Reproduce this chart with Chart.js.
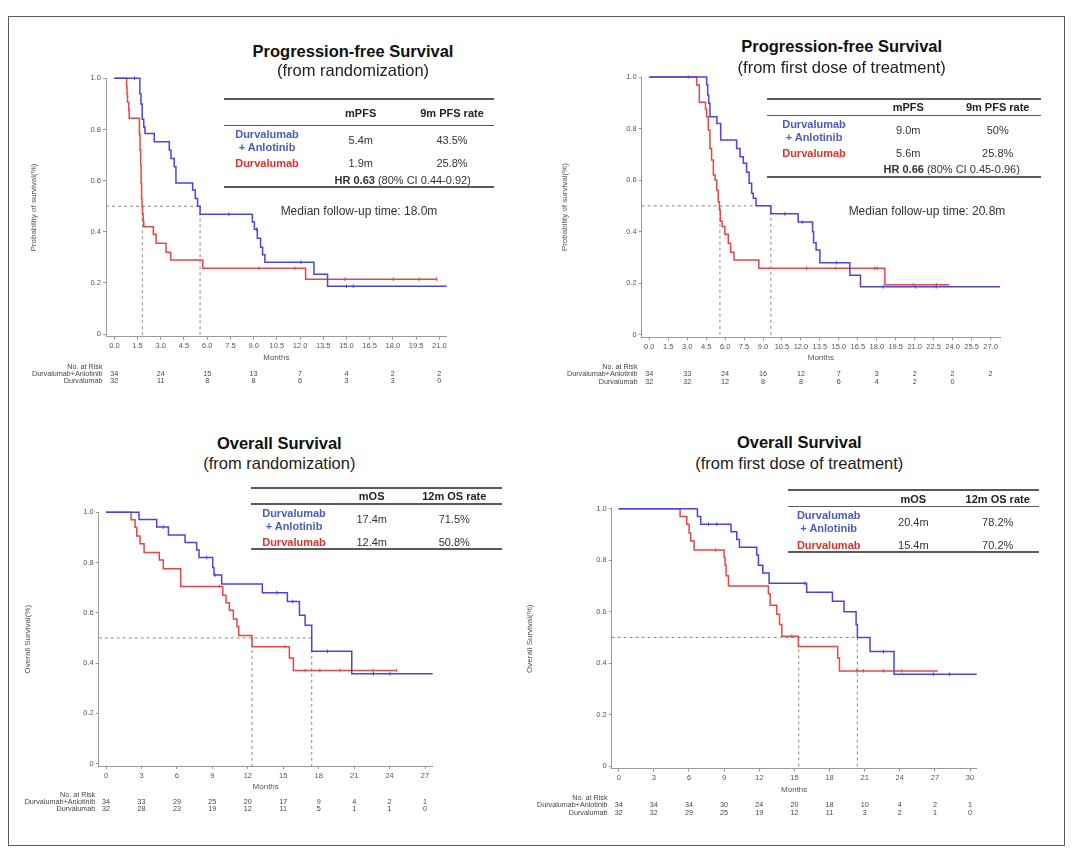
<!DOCTYPE html>
<html>
<head>
<meta charset="utf-8">
<script src="https://cdn.jsdelivr.net/npm/chart.js@4.4.1/dist/chart.umd.min.js"></script>
<style>
  html, body { margin: 0; padding: 0; background: #fff; }
  #page { position: relative; width: 1080px; height: 857px; overflow: hidden; font-family: "Liberation Sans", Arial, sans-serif; }
  #frame { position: absolute; left: 8px; top: 16px; width: 1057px; height: 830px; border: 1.5px solid #5a5a5a; box-sizing: border-box; }
  canvas { position: absolute; }
  .t { position: absolute; transform: translate(-50%, -50%); white-space: nowrap; color: #333; font-size: 11px; line-height: 1; }
  .rule { position: absolute; background: #5a5a5a; }
</style>
</head>
<body>
<div id="page"><div id="frame"></div></div>
<script>
(function () {
  "use strict";

  // ---- PFS from randomization ----
  const pfsRandComboT = [0, 1.65, 1.72, 1.80, 1.90, 1.98, 2.58, 3.55, 3.66, 3.87, 3.98, 5.06, 5.23, 5.38, 5.54, 8.92, 9.05, 9.24, 9.45, 9.58, 9.73, 12.90, 13.78, 21.48];
  const pfsRandComboS = [1.0, 0.94, 0.90, 0.84, 0.81, 0.784, 0.752, 0.72, 0.687, 0.654, 0.591, 0.563, 0.53, 0.50, 0.469, 0.438, 0.41, 0.375, 0.34, 0.31, 0.281, 0.234, 0.1875, 0.1875];
  const pfsRandComboCens = [1.3, 7.4, 9.19, 12.06, 15.0, 15.44];
  const pfsRandMonoT = [0, 0.79, 0.82, 0.85, 0.93, 0.96, 1.62, 1.66, 1.70, 1.73, 1.76, 1.79, 1.82, 1.86, 1.90, 2.52, 2.70, 3.34, 3.64, 5.71, 12.36, 20.83];
  const pfsRandMonoS = [1.0, 0.969, 0.938, 0.906, 0.875, 0.844, 0.78, 0.72, 0.66, 0.59, 0.53, 0.50, 0.47, 0.44, 0.42, 0.39, 0.355, 0.32, 0.29, 0.258, 0.215, 0.215];
  const pfsRandMonoCens = [9.35, 11.67, 14.9, 18.03, 19.7, 20.83];
  const pfsRandMedians = [1.81, 5.54];
  const pfsRandTicks = [0, 1.5, 3, 4.5, 6, 7.5, 9, 10.5, 12, 13.5, 15, 16.5, 18, 19.5, 21];
  const pfsRandRiskTimes = [0, 3, 6, 9, 12, 15, 18, 21];
  const pfsRandRiskCombo = [34, 24, 15, 13, 7, 4, 2, 2];
  const pfsRandRiskMono = [32, 11, 8, 8, 6, 3, 3, 0];

  // ---- PFS from first dose ----
  const pfsDoseComboT = [0, 4.54, 4.62, 4.70, 4.80, 5.35, 5.65, 6.91, 7.18, 7.44, 7.70, 7.90, 8.10, 8.23, 8.45, 9.62, 11.78, 12.92, 13.00, 13.20, 13.50, 15.87, 16.71, 27.75];
  const pfsDoseComboS = [1.0, 0.97, 0.93, 0.898, 0.846, 0.82, 0.756, 0.723, 0.691, 0.665, 0.63, 0.588, 0.549, 0.53, 0.50, 0.469, 0.437, 0.40, 0.357, 0.329, 0.279, 0.231, 0.186, 0.186];
  const pfsDoseComboCens = [3.08, 10.73, 12.1, 14.82, 18.5, 21.07, 22.7];
  const pfsDoseMonoT = [0, 3.75, 3.96, 4.45, 4.54, 4.67, 4.80, 4.93, 5.07, 5.20, 5.33, 5.46, 5.55, 5.62, 5.77, 5.98, 6.25, 6.43, 6.70, 8.67, 18.64, 23.73];
  const pfsDoseMonoS = [1.0, 0.969, 0.902, 0.875, 0.846, 0.794, 0.723, 0.678, 0.62, 0.60, 0.561, 0.516, 0.484, 0.44, 0.42, 0.39, 0.355, 0.32, 0.29, 0.258, 0.194, 0.194];
  const pfsDoseMonoCens = [12.44, 14.76, 17.85, 18.03, 20.88, 22.73];
  const pfsDoseMedians = [5.59, 9.62];
  const pfsDoseTicks = [0, 1.5, 3, 4.5, 6, 7.5, 9, 10.5, 12, 13.5, 15, 16.5, 18, 19.5, 21, 22.5, 24, 25.5, 27];
  const pfsDoseRiskTimes = [0, 3, 6, 9, 12, 15, 18, 21, 24, 27];
  const pfsDoseRiskCombo = [34, 33, 24, 16, 12, 7, 3, 2, 2, 2];
  const pfsDoseRiskMono = [32, 32, 12, 8, 8, 6, 4, 2, 0, null];

  // ---- OS from randomization ----
  const osRandComboT = [0, 2.79, 4.29, 5.28, 6.69, 7.67, 7.87, 9.03, 9.14, 9.79, 13.23, 15.35, 16.37, 16.85, 17.41, 20.80, 27.65];
  const osRandComboS = [1.0, 0.971, 0.941, 0.91, 0.88, 0.85, 0.82, 0.78, 0.75, 0.715, 0.68, 0.645, 0.59, 0.55, 0.447, 0.357, 0.357];
  const osRandComboCens = [4.85, 8.52, 9.23, 14.45, 15.8, 18.74, 22.63, 24.04];
  const osRandMonoT = [0, 2.12, 2.46, 2.60, 2.88, 3.22, 4.51, 4.85, 6.32, 9.88, 10.16, 10.44, 10.78, 11.08, 11.23, 12.36, 15.52, 15.86, 24.6];
  const osRandMonoS = [1.0, 0.97, 0.94, 0.906, 0.875, 0.84, 0.81, 0.775, 0.705, 0.67, 0.64, 0.61, 0.575, 0.545, 0.51, 0.465, 0.42, 0.37, 0.37];
  const osRandMonoCens = [9.59, 15.15, 16.85, 18.1, 19.8, 22.6, 24.6];
  const osRandMedians = [12.36, 17.41];
  const osRandTicks = [0, 3, 6, 9, 12, 15, 18, 21, 24, 27];
  const osRandRiskTimes = [0, 3, 6, 9, 12, 15, 18, 21, 24, 27];
  const osRandRiskCombo = [34, 33, 29, 25, 20, 17, 9, 4, 2, 1];
  const osRandRiskMono = [32, 28, 23, 19, 12, 11, 5, 1, 1, 0];

  // ---- OS from first dose ----
  const osDoseComboT = [0, 6.72, 7.00, 9.59, 10.08, 10.31, 11.79, 11.93, 12.30, 12.84, 16.05, 18.25, 19.24, 20.27, 20.38, 21.46, 23.51, 30.57];
  const osDoseComboS = [1.0, 0.97, 0.94, 0.91, 0.88, 0.85, 0.82, 0.78, 0.75, 0.71, 0.675, 0.64, 0.60, 0.55, 0.50, 0.445, 0.357, 0.357];
  const osDoseComboCens = [7.66, 8.37, 15.9, 22.6, 26.87, 28.24];
  const osDoseMonoT = [0, 5.24, 5.81, 6.01, 6.15, 6.44, 9.00, 9.08, 9.17, 9.37, 12.78, 12.93, 13.50, 13.73, 13.93, 15.34, 18.70, 18.85, 27.24];
  const osDoseMonoS = [1.0, 0.97, 0.94, 0.906, 0.875, 0.84, 0.81, 0.78, 0.74, 0.70, 0.67, 0.625, 0.59, 0.55, 0.505, 0.465, 0.42, 0.37, 0.37];
  const osDoseMonoCens = [8.28, 14.77, 20.32, 20.9, 22.6, 24.17];
  const osDoseMedians = [15.37, 20.38];
  const osDoseTicks = [0, 3, 6, 9, 12, 15, 18, 21, 24, 27, 30];
  const osDoseRiskTimes = [0, 3, 6, 9, 12, 15, 18, 21, 24, 27, 30];
  const osDoseRiskCombo = [34, 34, 34, 30, 24, 20, 18, 10, 4, 2, 1];
  const osDoseRiskMono = [32, 32, 29, 25, 19, 12, 11, 3, 2, 1, 0];

  const yTicks = [0, 0.2, 0.4, 0.6, 0.8, 1.0];
  const riskLabels = ["No. at Risk", "Durvalumab+Anlotinib", "Durvalumab"];

  // summary table texts
  const pfsRandTable = ["mPFS", "9m PFS rate", "5.4m", "43.5%", "1.9m", "25.8%"];
  const pfsDoseTable = ["mPFS", "9m PFS rate", "9.0m", "50%", "5.6m", "25.8%"];
  const osRandTable = ["mOS", "12m OS rate", "17.4m", "71.5%", "12.4m", "50.8%"];
  const osDoseTable = ["mOS", "12m OS rate", "20.4m", "78.2%", "15.4m", "70.2%"];

  const BLUE = "#4646e2";
  const RED = "#e64646";
  const BLUE_TXT = "#4a5cc2";
  const RED_TXT = "#e3302c";
  const FONT = '"Liberation Sans", Arial, sans-serif';
  const page = document.getElementById("page");

  function survAt(T, S, t) {
    let s = S[0];
    for (let i = 0; i < T.length; i++) if (T[i] <= t) s = S[i];
    return s;
  }

  const riskPlugin = {
    id: "riskTable",
    afterDraw(chart, args, opts) {
      const ctx = chart.ctx;
      const xs = chart.scales.x;
      ctx.save();
      ctx.font = "7.2px " + FONT;
      ctx.fillStyle = "#444";
      ctx.textBaseline = "middle";
      ctx.textAlign = "right";
      riskLabels.forEach((l, i) => ctx.fillText(l, opts.labelX, opts.rows[i]));
      ctx.textAlign = "center";
      opts.times.forEach((t, i) => {
        const px = xs.getPixelForValue(t);
        if (opts.combo[i] != null) ctx.fillText(String(opts.combo[i]), px, opts.rows[1]);
        if (opts.mono[i] != null) ctx.fillText(String(opts.mono[i]), px, opts.rows[2]);
      });
      ctx.restore();
    },
  };

  function makePanel(p) {
    const [bx, by, bw, bh] = p.box;
    const [aL, aT, aR, aB] = p.area;
    const axisFont = 8;
    const lh = axisFont * 1.2;
    const yW = aL - (p.yTitleX - lh / 2);
    const xH = 25.5;
    const yMin = -0.01;

    const canvas = document.createElement("canvas");
    canvas.width = bw;
    canvas.height = bh;
    canvas.style.left = bx + "px";
    canvas.style.top = by + "px";
    canvas.style.width = bw + "px";
    canvas.style.height = bh + "px";
    page.appendChild(canvas);

    const curve = (T, S, color) => ({
      data: T.map((t, i) => ({ x: t, y: S[i] })),
      borderColor: color,
      borderWidth: 1.5,
      stepped: true,
      pointRadius: 0,
      fill: false,
      clip: false,
    });
    const cens = (C, T, S, color) => ({
      data: C.map((t) => ({ x: t, y: survAt(T, S, t) })),
      showLine: false,
      pointStyle: "line",
      rotation: 90,
      pointRadius: 1.8,
      pointBorderWidth: 1,
      borderColor: color,
      clip: false,
    });
    const dashed = (pts) => ({
      data: pts,
      borderColor: "#8a8a8a",
      borderWidth: 1,
      borderDash: [3, 3],
      pointRadius: 0,
      clip: false,
    });

    const medMax = Math.max(...p.medians);
    const datasets = [
      curve(p.comboT, p.comboS, BLUE),
      curve(p.monoT, p.monoS, RED),
      cens(p.comboC, p.comboT, p.comboS, BLUE),
      cens(p.monoC, p.monoT, p.monoS, RED),
      dashed([{ x: p.xRange[0], y: 0.5 }, { x: medMax, y: 0.5 }]),
    ];
    p.medians.forEach((m) => datasets.push(dashed([{ x: m, y: 0.5 }, { x: m, y: yMin }])));

    const tickFont = { family: FONT, size: 7.5 };
    const titleFont = { family: FONT, size: axisFont };

    new Chart(canvas, {
      type: "line",
      data: { datasets },
      options: {
        responsive: false,
        animation: false,
        devicePixelRatio: 1,
        events: [],
        layout: {
          padding: {
            left: p.yTitleX - lh / 2 - bx,
            top: aT - by,
            right: bx + bw - aR,
            bottom: by + bh - aB - xH,
          },
        },
        plugins: {
          legend: { display: false },
          tooltip: { enabled: false },
          riskTable: {
            labelX: p.riskLabelX - bx,
            rows: p.riskRows.map((r) => r - by),
            times: p.riskTimes,
            combo: p.riskCombo,
            mono: p.riskMono,
          },
        },
        scales: {
          x: {
            type: "linear",
            bounds: "data",
            min: p.xRange[0],
            max: p.xRange[1],
            afterFit(s) { s.height = xH; },
            afterBuildTicks(s) { s.ticks = p.ticks.map((v) => ({ value: v })); },
            ticks: {
              autoSkip: false,
              minRotation: 0,
              maxRotation: 0,
              padding: 2,
              font: tickFont,
              color: "#555",
              callback: (v) => p.decimals ? Number(v).toFixed(1) : String(v),
            },
            grid: { display: true, drawOnChartArea: false, drawTicks: true, tickLength: 3, color: "#9a9a9a" },
            border: { display: true, color: "#9a9a9a", width: 1 },
            title: { display: true, text: "Months", font: titleFont, color: "#555", padding: 0 },
          },
          y: {
            type: "linear",
            bounds: "data",
            min: yMin,
            max: 1.0,
            afterFit(s) { s.width = yW; },
            afterBuildTicks(s) { s.ticks = yTicks.map((v) => ({ value: v })); },
            ticks: {
              padding: 2,
              font: tickFont,
              color: "#555",
              callback: (v) => (v === 0 ? "0" : Number(v).toFixed(1)),
            },
            grid: { display: true, drawOnChartArea: false, drawTicks: true, tickLength: 3, color: "#9a9a9a" },
            border: { display: true, color: "#9a9a9a", width: 1 },
            title: { display: true, text: p.yTitle, font: titleFont, color: "#555", padding: 0 },
          },
        },
      },
      plugins: [riskPlugin],
    });
  }

  function addText(x, y, html, css) {
    const el = document.createElement("div");
    el.className = "t";
    el.style.left = x + "px";
    el.style.top = y + "px";
    if (css) el.style.cssText += css;
    el.innerHTML = html;
    page.appendChild(el);
  }

  function addRule(x1, x2, y, h) {
    const el = document.createElement("div");
    el.className = "rule";
    el.style.left = x1 + "px";
    el.style.width = (x2 - x1) + "px";
    el.style.top = (y - h / 2) + "px";
    el.style.height = h + "px";
    page.appendChild(el);
  }

  // title + summary table for one panel
  function addHeader(h) {
    addText(h.titleX, h.titleY, h.title, "font-size:16.5px;font-weight:bold;color:#111;");
    addText(h.titleX, h.subY, h.sub, "font-size:16.5px;color:#222;");
    addRule(h.ruleX[0], h.ruleX[1], h.rules[0], 2);
    addRule(h.ruleX[0], h.ruleX[1], h.rules[1], 1.5);
    addRule(h.ruleX[0], h.ruleX[1], h.rules[2], 2);
    const [c0, c1, c2] = h.cols;
    const tb = h.table;
    addText(c1, h.rows[0], tb[0], "font-weight:bold;color:#222;");
    addText(c2, h.rows[0], tb[1], "font-weight:bold;color:#222;");
    addText(c0, h.rows[1], "Durvalumab", "font-weight:bold;color:" + BLUE_TXT + ";");
    addText(c0, h.rows[2], "+ Anlotinib", "font-weight:bold;color:" + BLUE_TXT + ";");
    addText(c1, h.rows[3], tb[2]);
    addText(c2, h.rows[3], tb[3]);
    addText(c0, h.rows[4], "Durvalumab", "font-weight:bold;color:" + RED_TXT + ";");
    addText(c1, h.rows[4], tb[4]);
    addText(c2, h.rows[4], tb[5]);
    if (h.hr) addText(h.hr[0], h.hr[1], h.hr[2]);
    if (h.fu) addText(h.fu[0], h.fu[1], h.fu[2], "font-size:12px;color:#333;");
  }

  makePanel({
    box: [10, 60, 520, 340], area: [106, 78.3, 446.7, 336.7], xRange: [-0.54, 21.48], decimals: true,
    yTitleX: 33.3, yTitle: "Probability of survival(%)",
    comboT: pfsRandComboT, comboS: pfsRandComboS, comboC: pfsRandComboCens,
    monoT: pfsRandMonoT, monoS: pfsRandMonoS, monoC: pfsRandMonoCens,
    medians: pfsRandMedians, ticks: pfsRandTicks,
    riskLabelX: 102.5, riskRows: [366.7, 374, 380.7],
    riskTimes: pfsRandRiskTimes, riskCombo: pfsRandRiskCombo, riskMono: pfsRandRiskMono,
  });
  makePanel({
    box: [535, 60, 530, 340], area: [641.7, 77, 1000, 337.3], xRange: [-0.6, 27.75], decimals: true,
    yTitleX: 565, yTitle: "Probability of survival(%)",
    comboT: pfsDoseComboT, comboS: pfsDoseComboS, comboC: pfsDoseComboCens,
    monoT: pfsDoseMonoT, monoS: pfsDoseMonoS, monoC: pfsDoseMonoCens,
    medians: pfsDoseMedians, ticks: pfsDoseTicks,
    riskLabelX: 637.5, riskRows: [367.3, 374.3, 381.7],
    riskTimes: pfsDoseRiskTimes, riskCombo: pfsDoseRiskCombo, riskMono: pfsDoseRiskMono,
  });
  makePanel({
    box: [10, 495, 515, 330], area: [98.7, 512.3, 432.7, 766], xRange: [-0.62, 27.65], decimals: false,
    yTitleX: 27.3, yTitle: "Overall Survival(%)",
    comboT: osRandComboT, comboS: osRandComboS, comboC: osRandComboCens,
    monoT: osRandMonoT, monoS: osRandMonoS, monoC: osRandMonoCens,
    medians: osRandMedians, ticks: osRandTicks,
    riskLabelX: 95.2, riskRows: [795, 802, 808.7],
    riskTimes: osRandRiskTimes, riskCombo: osRandRiskCombo, riskMono: osRandRiskMono,
  });
  makePanel({
    box: [515, 495, 550, 330], area: [611.7, 508.7, 976.7, 768.7], xRange: [-0.6, 30.57], decimals: false,
    yTitleX: 530, yTitle: "Overall Survival(%)",
    comboT: osDoseComboT, comboS: osDoseComboS, comboC: osDoseComboCens,
    monoT: osDoseMonoT, monoS: osDoseMonoS, monoC: osDoseMonoCens,
    medians: osDoseMedians, ticks: osDoseTicks,
    riskLabelX: 607.5, riskRows: [797.7, 805.3, 812.7],
    riskTimes: osDoseRiskTimes, riskCombo: osDoseRiskCombo, riskMono: osDoseRiskMono,
  });

  addHeader({
    title: "Progression-free Survival", sub: "(from randomization)", titleX: 353, titleY: 50.7, subY: 70,
    ruleX: [224, 494], rules: [99, 125.7, 186.7], cols: [267, 360.7, 452],
    rows: [112.7, 133.7, 146.7, 140, 163.3], table: pfsRandTable,
    hr: [402.7, 180, "<b>HR 0.63</b> (80% CI 0.44-0.92)"],
    fu: [359, 210.7, "Median follow-up time: 18.0m"],
  });
  addHeader({
    title: "Progression-free Survival", sub: "(from first dose of treatment)", titleX: 841.7, titleY: 46, subY: 66.7,
    ruleX: [766.7, 1040.7], rules: [98.7, 115.3, 177], cols: [814, 908.3, 997.7],
    rows: [107.3, 123.7, 136.7, 130, 153.3], table: pfsDoseTable,
    hr: [951.7, 168.7, "<b>HR 0.66</b> (80% CI 0.45-0.96)"],
    fu: [927, 211, "Median follow-up time: 20.8m"],
  });
  addHeader({
    title: "Overall Survival", sub: "(from randomization)", titleX: 279.3, titleY: 442.7, subY: 462.7,
    ruleX: [251, 502.3], rules: [487.7, 504, 549.3], cols: [294, 371.7, 454.3],
    rows: [496.3, 512.7, 526, 519.3, 541.7], table: osRandTable,
  });
  addHeader({
    title: "Overall Survival", sub: "(from first dose of treatment)", titleX: 799.3, titleY: 442, subY: 462.7,
    ruleX: [788.3, 1039], rules: [490, 506.7, 552.3], cols: [828.7, 913.3, 997.7],
    rows: [498.7, 515.3, 528, 521.7, 544.7], table: osDoseTable,
  });
})();
</script>
</body>
</html>
